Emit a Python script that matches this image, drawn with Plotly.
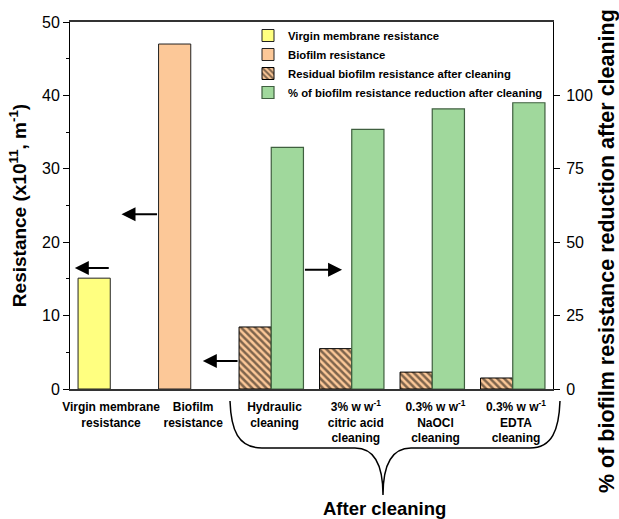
import plotly.graph_objects as go

# ---------------- data ----------------
labels = [
    "<b>Virgin membrane<br>resistance</b>",
    "<b>Biofilm<br>resistance</b>",
    "<b>Hydraulic<br>cleaning</b>",
    "<b>3% w w<sup>-1</sup><br>citric acid<br>cleaning</b>",
    "<b>0.3% w w<sup>-1</sup><br>NaOCl<br>cleaning</b>",
    "<b>0.3% w w<sup>-1</sup><br>EDTA<br>cleaning</b>",
]
cat_pos = [1, 2, 3.2, 4.2, 5.2, 6.2]          # bar group centres
label_pos = [1.21, 2.23, 3.24, 4.25, 5.24, 6.24]

virgin = [15.1]
biofilm = [47.0]
residual = [8.45, 5.5, 2.3, 1.5]                 # x10^11 m^-1
reduction = [82.3, 88.4, 95.4, 97.5]            # %

BW = 0.4
FONT = "Arial, Liberation Sans, sans-serif"

# ---------------- figure ----------------
fig = go.Figure()
fig.add_trace(go.Bar(
    x=cat_pos[:1], y=virgin, width=BW, name="<b>Virgin membrane resistance</b>",
    marker=dict(color="#FFFF80", line=dict(color="#222", width=1)),
))
fig.add_trace(go.Bar(
    x=cat_pos[1:2], y=biofilm, width=BW, name="<b>Biofilm resistance</b>",
    marker=dict(color="#FCC898", line=dict(color="#222", width=1)),
))
fig.add_trace(go.Bar(
    x=cat_pos[2:], y=residual, width=BW, offset=-BW,
    name="<b>Residual biofilm resistance after cleaning</b>",
    marker=dict(color="#FCC898", line=dict(color="#000", width=1),
                pattern=dict(shape="\\", fgcolor="#000", bgcolor="#FCC898",
                             size=5, solidity=0.5)),
))
fig.add_trace(go.Bar(
    x=cat_pos[2:], y=reduction, width=BW, offset=0, yaxis="y2",
    name="<b>% of biofilm resistance reduction after cleaning</b>",
    marker=dict(color="#A0D89C", line=dict(color="#3F5F3F", width=1.2)),
))

# ---------------- pixel helpers for decoration ----------------
L, R, T, B = 70, 553, 22, 389
def px(x):
    return (x - L) / (R - L)
def py(y):
    return (B - y) / (B - T)

# arrows (annotations in data coords)
arrows = [
    # (tail_x, head_x, y on left axis)
    (1.2, 0.76, 16.5),
    (1.8, 1.34, 23.8),
    (2.8, 2.35, 3.8),
    (3.6, 4.08, 16.25),
]
for tx, hx, yv in arrows:
    fig.add_annotation(x=hx, y=yv, ax=tx, ay=yv, xref="x", yref="y",
                       axref="x", ayref="y", text="", showarrow=True,
                       arrowhead=2, arrowsize=1.4, arrowwidth=2,
                       arrowcolor="#000")

# brace below the cleaning labels (paper coords)
pts = [
    ("M", [(230, 401)]),
    ("C", [(231, 430), (238, 448), (262, 448)]),
    ("L", [(355, 448)]),
    ("C", [(375, 448), (383, 465), (383, 495)]),
    ("C", [(383, 465), (391, 448), (411, 448)]),
    ("L", [(530, 448)]),
    ("C", [(552, 448), (559, 430), (560, 401)]),
]
path = " ".join(cmd + " " + " ".join(f"{px(a):.5f},{py(b):.5f}" for a, b in p)
                for cmd, p in pts)
fig.add_shape(type="path", path=path, xref="paper", yref="paper",
              line=dict(color="#000", width=1.5))

fig.add_annotation(x=px(384), y=py(508), xref="paper", yref="paper",
                   xanchor="center", yanchor="middle",
                   text="<b>After cleaning</b>", showarrow=False,
                   font=dict(size=18.5, family=FONT, color="#000"))

# right axis title (larger than left one in the reference)
fig.add_annotation(x=px(607), y=py(251), xref="paper", yref="paper",
                   xanchor="center", yanchor="middle", textangle=-90,
                   text="<b>% of biofilm resistance reduction after cleaning</b>",
                   showarrow=False,
                   font=dict(size=21.5, family=FONT, color="#000"))

fig.update_layout(
    width=619, height=519,
    margin=dict(l=L, r=619 - R, t=T, b=519 - B),
    paper_bgcolor="white", plot_bgcolor="white",
    barmode="overlay",
    font=dict(family=FONT, color="#000"),
    showlegend=True,
    legend=dict(x=px(248), y=py(21), xanchor="left", yanchor="top",
                bgcolor="rgba(0,0,0,0)", font=dict(size=11.3, family=FONT),
                tracegroupgap=0, itemwidth=30),
    xaxis=dict(range=[0.7, 6.7], tickvals=label_pos, ticktext=labels,
               ticks="", showline=True, linecolor="#333", linewidth=1.5,
               mirror=True, showgrid=False, zeroline=False,
               tickfont=dict(size=12, family=FONT, color="#000"),
               ticklabelstandoff=6),
    yaxis=dict(range=[0, 50], tickvals=[0, 10, 20, 30, 40, 50],
               ticks="outside", ticklen=6, tickwidth=1, tickcolor="#000",
               minor=dict(ticks="outside", ticklen=3, dtick=5, tickcolor="#000"),
               showline=True, linecolor="#000", linewidth=1,
               showgrid=False, zeroline=False,
               tickfont=dict(size=16, family=FONT),
               title=dict(text="<b>Resistance (x10<sup>11</sup>, m<sup>-1</sup>)</b>",
                          font=dict(size=19, family=FONT), standoff=10)),
    yaxis2=dict(range=[0, 125], tickvals=[0, 25, 50, 75, 100],
                overlaying="y", side="right", anchor="x",
                ticks="outside", ticklen=6, tickwidth=1, tickcolor="#000",
                showline=True, linecolor="#000", linewidth=1,
                showgrid=False, zeroline=False,
                tickfont=dict(size=16, family=FONT), ticklabelstandoff=3),
)

fig.write_html("out.html")
